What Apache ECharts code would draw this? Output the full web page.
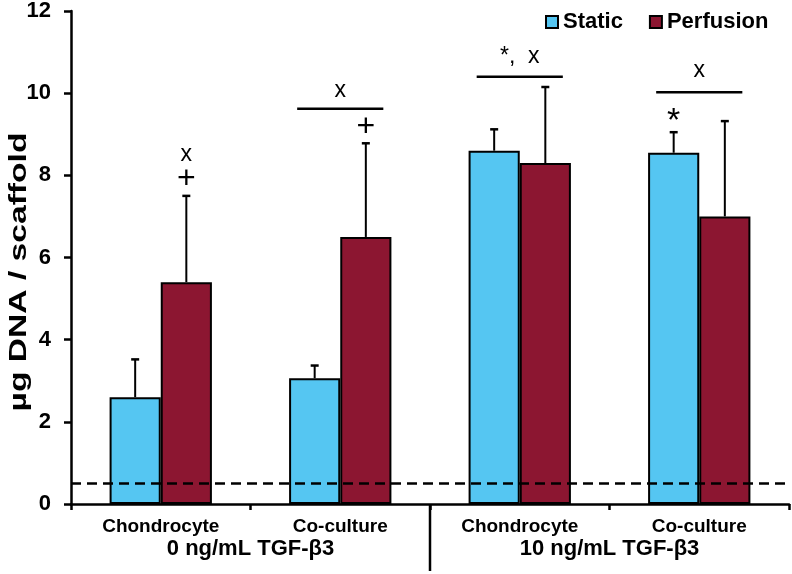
<!DOCTYPE html>
<html>
<head>
<meta charset="utf-8">
<script src="https://cdn.jsdelivr.net/npm/echarts@6/dist/echarts.min.js"></script>
<style>html,body{margin:0;padding:0;background:#fff}#c{width:792px;height:574px}</style>
</head>
<body>
<div id="c"></div>
<script>
var categories = ['Chondrocyte', 'Co-culture', 'Chondrocyte', 'Co-culture'];
var groupLabels = ['0 ng/mL TGF-\u03b23', '10 ng/mL TGF-\u03b23'];
var yTitle = '\u00b5g DNA / scaffold';
var staticMean = [2.6, 3.06, 8.6, 8.55];
var staticUpper = [3.52, 3.37, 9.12, 9.05];
var perfusionMean = [5.4, 6.5, 8.3, 7.0];
var perfusionUpper = [7.5, 8.78, 10.15, 9.32];
var yTicks = [0, 2, 4, 6, 8, 10, 12];
var threshold = 0.5;
// annotations: [category, series (-1 static, 1 perfusion), y value, text]
var symbolMarks = [[0, 1, 7.9, '+'], [0, 1, 8.5, 'x'], [1, 1, 9.17, '+'], [3, -1, 9.5, '*']];
// brackets: [category, y value of line, label y value, text]
var brackets = [[1, 9.62, 10.05, 'x'], [2, 10.4, 10.9, '*,  x'], [3, 10.02, 10.55, 'x']];

var BLUE = '#55c6f2', RED = '#8c1631';
var FONT = '"Liberation Sans", Arial, sans-serif';
var chart = echarts.init(document.getElementById('c'));

function errData(means, uppers) {
  return means.map(function (m, i) { return [i, m, uppers[i]]; });
}
function errorRender(side) {
  return function (params, api) {
    var ci = api.value(0);
    var p0 = api.coord([ci, api.value(1)]);
    var p1 = api.coord([ci, api.value(2)]);
    var bw = api.size([1, 0])[0];
    var x = p0[0] + side * bw * 0.1425;
    return { type: 'group', children: [
      { type: 'line', shape: { x1: x, y1: p0[1], x2: x, y2: p1[1] }, style: { stroke: '#000', lineWidth: 2 } },
      { type: 'line', shape: { x1: x - 4, y1: p1[1], x2: x + 4, y2: p1[1] }, style: { stroke: '#000', lineWidth: 2.5 } }
    ] };
  };
}
function markRender(params, api) {
  var ci = api.value(0), side = api.value(1);
  var p = api.coord([ci, api.value(2)]);
  var bw = api.size([1, 0])[0];
  var txt = symbolMarks[params.dataIndex][3];
  var size = txt === '+' ? 32 : (txt === '*' ? 34 : 23);
  return { type: 'text', x: p[0] + side * bw * 0.1425, y: p[1] + (txt === '*' ? 8 : 0),
    style: { text: txt, fontSize: size, fontFamily: FONT, fill: '#000', align: 'center', verticalAlign: 'middle' } };
}
function bracketRender(params, api) {
  var ci = api.value(0);
  var p = api.coord([ci, api.value(1)]);
  var pt = api.coord([ci, api.value(2)]);
  var bw = api.size([1, 0])[0];
  var txt = brackets[params.dataIndex][3];
  return { type: 'group', children: [
    { type: 'line', shape: { x1: p[0] - bw * 0.24, y1: p[1], x2: p[0] + bw * 0.24, y2: p[1] }, style: { stroke: '#000', lineWidth: 2.5 } },
    { type: 'text', x: pt[0], y: pt[1], style: { text: txt, fontSize: 23, fontFamily: FONT, fill: '#000', align: 'center', verticalAlign: 'middle' } }
  ] };
}

chart.setOption({
  animation: false,
  backgroundColor: '#fff',
  textStyle: { fontFamily: FONT },
  grid: { left: 71, right: 3, top: 11, bottom: 70, containLabel: false, outerBoundsMode: 'none' },
  legend: {
    left: 540, top: 6, itemWidth: 12, itemHeight: 12, itemGap: 26, icon: 'rect',
    textStyle: { fontSize: 22, fontWeight: 'bold', color: '#000', fontFamily: FONT, padding: [0, 0, 0, 0] },
    data: [
      { name: 'Static', itemStyle: { color: BLUE, borderColor: '#000', borderWidth: 2 } },
      { name: 'Perfusion', itemStyle: { color: RED, borderColor: '#000', borderWidth: 2 } }
    ]
  },
  xAxis: {
    type: 'category', data: categories,
    axisLine: { lineStyle: { color: '#000', width: 2.5 } },
    axisTick: { show: true, length: 6, lineStyle: { color: '#000', width: 2.5 } },
    axisLabel: { color: '#000', fontSize: 19, fontWeight: 'bold', margin: 13, fontFamily: FONT }
  },
  yAxis: {
    type: 'value', min: 0, max: 12, interval: 2,
    axisLine: { show: true, lineStyle: { color: '#000', width: 2.5 } },
    axisTick: { show: true, length: 7, lineStyle: { color: '#000', width: 2.5 } },
    splitLine: { show: false },
    axisLabel: { color: '#000', fontSize: 22, fontWeight: 'bold', margin: 20, fontFamily: FONT,
      customValues: yTicks }
  },
  series: [
    { name: 'Static', type: 'bar', data: staticMean, barGap: '0%', barCategoryGap: '43%',
      itemStyle: { color: BLUE, borderColor: '#000', borderWidth: 2 }, z: 2,
      markLine: { silent: true, symbol: 'none', label: { show: false },
        lineStyle: { color: '#000', type: [10, 6], width: 2.5 }, data: [{ yAxis: threshold }], z: 10 } },
    { name: 'Perfusion', type: 'bar', data: perfusionMean,
      itemStyle: { color: RED, borderColor: '#000', borderWidth: 2 }, z: 2 },
    { type: 'custom', renderItem: errorRender(-1), data: errData(staticMean, staticUpper), z: 1, silent: true },
    { type: 'custom', renderItem: errorRender(1), data: errData(perfusionMean, perfusionUpper), z: 1, silent: true },
    { type: 'custom', renderItem: markRender, data: symbolMarks.map(function (m) { return [m[0], m[1], m[2]]; }), z: 5, silent: true },
    { type: 'custom', renderItem: bracketRender, data: brackets.map(function (b) { return [b[0], b[1], b[2]]; }), z: 5, silent: true }
  ]
});

function drawExtras() {
  var c = categories.map(function (_, i) { return chart.convertToPixel({ xAxisIndex: 0 }, i); });
  var y0 = chart.convertToPixel({ yAxisIndex: 0 }, 0);
  var divX = (c[1] + c[2]) / 2;
  chart.setOption({ graphic: [
    { type: 'line', shape: { x1: divX, y1: y0, x2: divX, y2: 571 }, style: { stroke: '#000', lineWidth: 2.5 } },
    { type: 'text', x: (c[0] + c[1]) / 2, y: 549, style: { text: groupLabels[0], fontSize: 22, fontWeight: 'bold', fontFamily: FONT, fill: '#000', align: 'center', verticalAlign: 'middle' } },
    { type: 'text', x: (c[2] + c[3]) / 2, y: 549, style: { text: groupLabels[1], fontSize: 22, fontWeight: 'bold', fontFamily: FONT, fill: '#000', align: 'center', verticalAlign: 'middle' } },
    { type: 'text', x: 19, y: 272, rotation: Math.PI / 2, scaleX: 1.4,
      style: { text: yTitle, fontSize: 24, fontWeight: 'bold', fontFamily: FONT, fill: '#000', align: 'center', verticalAlign: 'middle' } }
  ] });
}
drawExtras();
</script>
</body>
</html>
